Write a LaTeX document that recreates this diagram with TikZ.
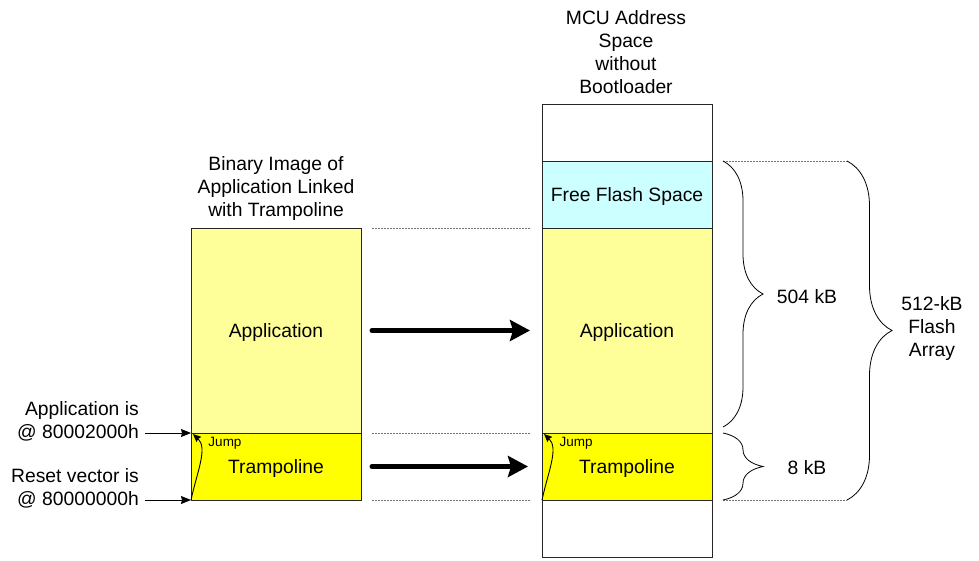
\documentclass[tikz,border=0pt]{standalone}
\usepackage{fontspec}
\setmainfont{Liberation Sans}
\usetikzlibrary{arrows.meta,decorations.pathreplacing,calc}
\definecolor{lyel}{HTML}{FFFF99}
\definecolor{yel}{HTML}{FFFF00}
\definecolor{cyanl}{HTML}{CCFFFF}
\begin{document}
\begin{tikzpicture}[x=1pt,y=-1pt,
  every node/.style={font=\fontsize{19.3}{23}\selectfont},
  mem/.style={draw=black!85, line width=0.9pt, minimum width=170pt, inner sep=0pt, outer sep=0pt, anchor=north west},
  boxlabel/.style={yshift=-2pt},
  dotline/.style={draw=black!55, line width=0.8pt, dash pattern=on 2pt off 1pt},
  bigarrow/.style={line width=5pt, line cap=round, -{Stealth[length=20pt,width=21pt,inset=3pt]}},
  thinarrow/.style={line width=0.9pt, -{Stealth[length=10pt,width=8pt,inset=1pt]}},
  jumparrow/.style={line width=0.9pt, -{Stealth[length=8pt,width=7pt,inset=1pt]}},
  bracestyle/.style={line width=0.8pt, decorate},
  small/.style={font=\fontsize{13.5}{15}\selectfont}
]
\useasboundingbox (0,0) rectangle (979,560);

% left column
\node[mem, fill=lyel, minimum height=205pt] (lapp) at (191,228) {};
\node[mem, fill=yel, minimum height=67pt] (ltramp) at (191,433) {};
\node[boxlabel] (lapptxt) at (lapp.center) {Application};
\node[boxlabel] (ltramptxt) at (ltramp.center) {Trampoline};
\node[align=center] (ltitle) at (276,189) {Binary Image of\\Application Linked\\with Trampoline};

% right column
\node[mem, fill=white, minimum height=57pt] (rtop) at (542,104) {};
\node[mem, fill=cyanl, minimum height=67pt] (rfree) at (542,161) {};
\node[mem, fill=lyel, minimum height=205pt] (rapp) at (542,228) {};
\node[mem, fill=yel, minimum height=67pt] (rtramp) at (542,433) {};
\node[mem, fill=white, minimum height=57pt] (rbot) at (542,500) {};
\node[boxlabel] (rfreetxt) at (rfree.center) {Free Flash Space};
\node[boxlabel] (rapptxt) at (rapp.center) {Application};
\node[boxlabel] (rtramptxt) at (rtramp.center) {Trampoline};
\node[align=center] (rtitle) at (626,52.5) {MCU Address\\Space\\without\\Bootloader};

% dotted guide lines between columns
\draw[dotline] ([xshift=11pt]lapp.north east) -- ([xshift=-11pt]rapp.north west);
\draw[dotline] ([xshift=11pt]ltramp.north east) -- ([xshift=-11pt]rtramp.north west);
\draw[dotline] ([xshift=11pt]ltramp.south east) -- ([xshift=-11pt]rtramp.south west);

% big arrows
\draw[bigarrow] ([xshift=11pt]lapp.east) -- ([xshift=-12pt]rapp.west);
\draw[bigarrow] ([xshift=11pt]ltramp.east) -- ([xshift=-14pt]rtramp.west);

% right guide lines
\coordinate (g1a) at ($(rfree.north east)+(11,0)$);
\coordinate (g1b) at ($(rfree.north east)+(135,0)$);
\coordinate (g2a) at ($(rtramp.south east)+(11,0)$);
\coordinate (g2b) at ($(rtramp.south east)+(135,0)$);
\draw[dotline] (g1a) -- (g1b);
\draw[dotline] (g2a) -- (g2b);

% braces
\draw[bracestyle, decoration={brace, amplitude=40pt}] (g1a) -- ($(rapp.south east)+(11,-6)$);
\draw[bracestyle, decoration={brace, amplitude=40pt}] ($(rtramp.north east)+(11,0)$) -- (g2a);
\draw[bracestyle, decoration={brace, amplitude=45pt}] (g1b) -- (g2b);
\node (k504) at (807,297) {504 kB};
\node (k8) at (807,468) {8 kB};
\node[align=center] (k512) at (932,329) {512-kB\\Flash\\Array};

% left labels
\node[anchor=east, align=right, inner sep=0pt] (appis) at (139,421.5) {Application is\\@ 80002000h};
\node[anchor=east, align=right, inner sep=0pt] (resetis) at (139,488.5) {Reset vector is\\@ 80000000h};
\coordinate (a1) at (145,433);
\coordinate (a2) at (145,500);
\draw[thinarrow] (a1) -- (ltramp.north west);
\draw[thinarrow] (a2) -- (ltramp.south west);

% jump arrows
\draw[jumparrow] (ltramp.south west) .. controls ($(ltramp.south west)+(6,-28)$) and ($(ltramp.north west)+(17,15)$) .. ($(ltramp.north west)+(2,1)$);
\node[small] (ljump) at (225,443) {Jump};
\draw[jumparrow] (rtramp.south west) .. controls ($(rtramp.south west)+(6,-28)$) and ($(rtramp.north west)+(17,15)$) .. ($(rtramp.north west)+(2,1)$);
\node[small] (rjump) at (576,443) {Jump};
\end{tikzpicture}
\end{document}
